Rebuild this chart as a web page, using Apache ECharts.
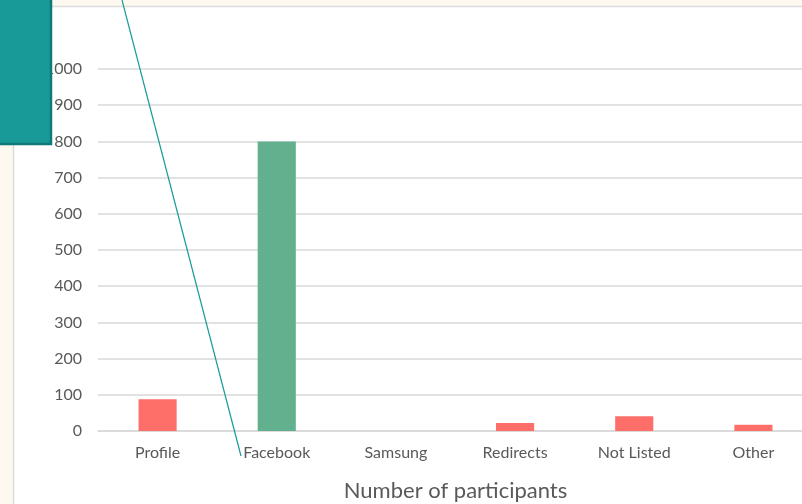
<!DOCTYPE html>
<html>
<head>
    <meta charset="utf-8">
    <title>Number of participants</title>
    <script type="text/javascript" src="https://cdn.jsdelivr.net/npm/echarts@6.0.0/dist/echarts.min.js"></script>
    <style>
        body { margin: 0; background: #fdf8f0; }
    </style>
</head>
<body>
    <div id="main" style="width: 802px;height:504px;"></div>
    <script type="text/javascript">
        // categories and counts
        var categories = ['Profile', 'Facebook', 'Samsung', 'Redirects', 'Not Listed', 'Other'];
        var participants = [88, 800, 0, 22, 41, 17];
        var barColors = ['#ff6f69', '#63b08f', '#ff6f69', '#ff6f69', '#ff6f69', '#ff6f69'];

        var myChart = echarts.init(document.getElementById('main'));

        var fontName = 'Lato';

        var option = {
            backgroundColor: '#fdf8f0',
            animation: false,
            grid: {
                left: 98,
                right: -11,
                top: 69,
                bottom: 73,
                outerBoundsMode: 'none'
            },
            xAxis: {
                type: 'category',
                data: categories,
                name: 'Number of participants',
                nameLocation: 'middle',
                nameGap: 49,
                nameTextStyle: { color: '#595959', fontSize: 22, fontFamily: fontName },
                axisLine: { lineStyle: { color: '#d9d9d9', width: 1.5 } },
                axisTick: { show: false },
                axisLabel: { color: '#595959', fontSize: 16, fontFamily: fontName, margin: 14 }
            },
            yAxis: {
                type: 'value',
                min: 0,
                max: 1000,
                interval: 100,
                axisLine: { show: false },
                axisTick: { show: false },
                axisLabel: {
                    color: '#595959', fontSize: 16, fontFamily: fontName, margin: 16,
                    formatter: function (v) { return String(v); }
                },
                splitLine: { lineStyle: { color: '#d9d9d9', width: 1.5 } }
            },
            series: [{
                name: 'participants',
                type: 'bar',
                barWidth: '32%',
                data: participants.map(function (v, i) {
                    return { value: v, itemStyle: { color: barColors[i] } };
                })
            }],
            graphic: [
                // white panel behind the plot
                {
                    type: 'rect',
                    z: -10,
                    shape: { x: 13.5, y: 6.5, width: 820, height: 520 },
                    style: { fill: '#ffffff', stroke: '#dcdcdc', lineWidth: 1.5 }
                },
                // teal box in the corner
                {
                    type: 'rect',
                    z: 100,
                    shape: { x: -5, y: -5, width: 56, height: 149 },
                    style: { fill: '#179a98', stroke: '#0f7a78', lineWidth: 2.5 }
                },
                // thin connector line
                {
                    type: 'line',
                    z: 100,
                    shape: { x1: 122, y1: 0, x2: 241, y2: 456 },
                    style: { stroke: '#179a98', lineWidth: 1.2 }
                }
            ]
        };

        myChart.setOption(option);
    </script>
</body>
</html>
